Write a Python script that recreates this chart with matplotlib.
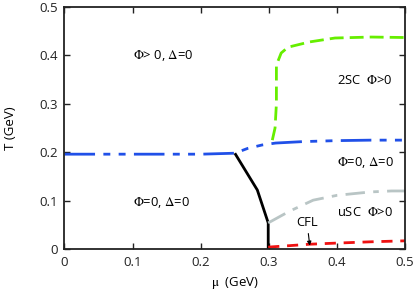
import matplotlib
matplotlib.use("Agg")
import matplotlib.pyplot as plt

plt.rcParams['font.family'] = ['Open Sans', 'DejaVu Sans']
plt.rcParams['mathtext.fontset'] = 'stix'

# phase boundaries (mu in GeV, T in GeV)
deconf_mu = [0.0, 0.05, 0.10, 0.15, 0.20, 0.25, 0.269, 0.29, 0.31, 0.35, 0.40, 0.45, 0.50]
deconf_T = [0.196, 0.196, 0.196, 0.196, 0.196, 0.198, 0.208, 0.215, 0.219, 0.222, 0.224, 0.225, 0.225]

first_mu = [0.250, 0.283, 0.299, 0.299]
first_T = [0.198, 0.122, 0.054, 0.0]

tsc_mu = [0.305, 0.309, 0.311, 0.311, 0.318, 0.328, 0.36, 0.397, 0.45, 0.50]
tsc_T = [0.225, 0.250, 0.30, 0.380, 0.405, 0.417, 0.428, 0.436, 0.438, 0.437]

usc_mu = [0.299, 0.33, 0.365, 0.40, 0.449, 0.48, 0.50]
usc_T = [0.054, 0.078, 0.101, 0.111, 0.118, 0.120, 0.120]

cfl_mu = [0.299, 0.33, 0.36, 0.394, 0.45, 0.50]
cfl_T = [0.004, 0.007, 0.010, 0.012, 0.015, 0.017]

fig = plt.figure(figsize=(4.16, 2.93), dpi=100)
ax = fig.add_axes([0.155, 0.150, 0.819, 0.826])

ax.plot(deconf_mu, deconf_T, color='#2050e8', lw=2.0, dashes=(11, 3, 2.5, 3, 2.5, 3))
ax.plot(first_mu, first_T, color='black', lw=2.0, solid_capstyle='butt')
ax.plot(tsc_mu, tsc_T, color='#66ee00', lw=2.0, dashes=(5, 2.2))
ax.plot(usc_mu, usc_T, color='#b9c5c5', lw=2.0, dashes=(7, 3, 2, 3))
ax.plot(cfl_mu, cfl_T, color='#ee1111', lw=2.0, dashes=(4, 2.8))

phi = r'$\mathit{\Phi}$'
lab_fs = 9.4
ax.text(0.10, 0.40, phi + r'> 0, $\Delta$=0', fontsize=lab_fs, va='center')
ax.text(0.40, 0.349, '2SC  ' + phi + '>0', fontsize=lab_fs, va='center')
ax.text(0.10, 0.097, phi + r'=0, $\Delta$=0', fontsize=lab_fs, va='center')
ax.text(0.40, 0.178, phi + r'=0, $\Delta$=0', fontsize=lab_fs, va='center')
ax.text(0.40, 0.076, 'uSC  ' + phi + '>0', fontsize=lab_fs, va='center')
ax.annotate('CFL', xy=(0.36, 0.007), xytext=(0.356, 0.054), fontsize=lab_fs,
            ha='center', va='center',
            arrowprops=dict(arrowstyle='-|>', color='black', lw=0.8,
                            mutation_scale=6, shrinkA=1, shrinkB=0))

ax.set_xlim(0, 0.5)
ax.set_ylim(0, 0.5)
ax.set_xticks([0, 0.1, 0.2, 0.3, 0.4, 0.5])
ax.set_yticks([0, 0.1, 0.2, 0.3, 0.4, 0.5])
ax.set_xticklabels(['0', '0.1', '0.2', '0.3', '0.4', '0.5'])
ax.set_yticklabels(['0', '0.1', '0.2', '0.3', '0.4', '0.5'])
ax.tick_params(direction='in', top=True, right=True, length=4, width=1,
               labelsize=9.5, pad=5, colors='#222222')
for s in ax.spines.values():
    s.set_linewidth(1.3)
    s.set_color('#222222')

ax.set_xlabel(r'$\mathrm{\mu}$  (GeV)', fontsize=9.5, labelpad=4)
ax.set_ylabel('T (GeV)', fontsize=9.5, labelpad=16)

fig.savefig('out.png', dpi=100)
